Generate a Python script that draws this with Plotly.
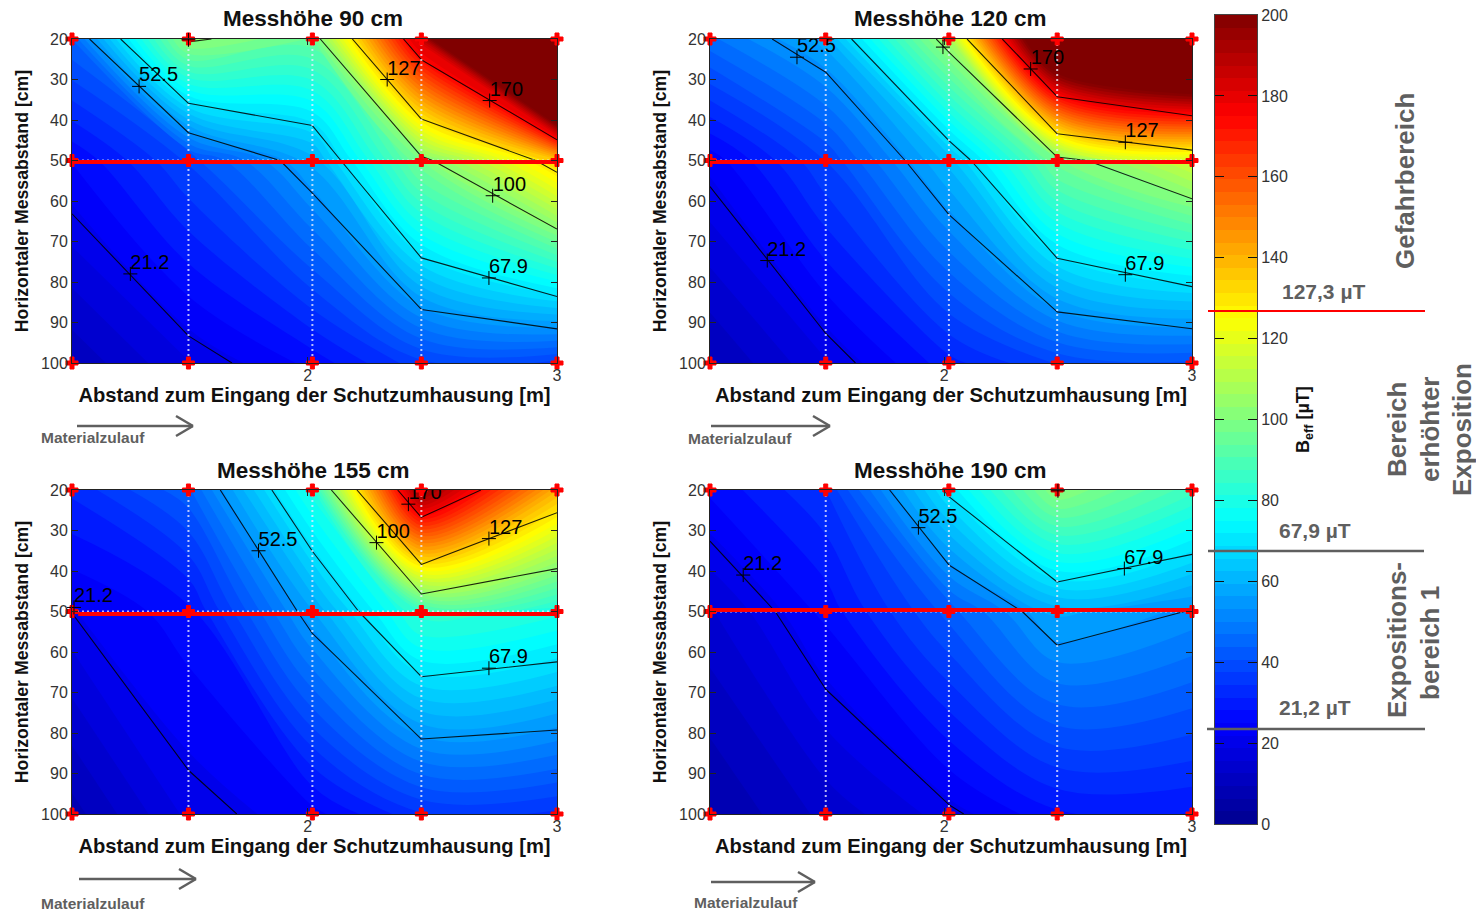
import plotly.graph_objects as go

W, H = 1476, 913
x_nodes = [1.055, 1.522, 2.019, 2.456, 3.0]
y_nodes = [20, 50, 100]
levels = [21.2, 52.5, 67.9, 100, 127, 170]
titles = ["Messhöhe 90 cm", "Messhöhe 120 cm", "Messhöhe 155 cm", "Messhöhe 190 cm"]

z_90 = [[43.8, 101.5, 93.4, 185, 352],
        [25.2, 38, 57.6, 97, 132.6],
        [10, 18.6, 26, 36.5, 36.3]]
z_120 = [[46, 58.1, 104.8, 237, 266],
         [23, 37.6, 60.7, 96, 114],
         [9, 18.4, 30, 37.8, 40]]
z_155 = [[32, 43, 80, 195, 138],
         [21.3, 27, 56, 84, 79.3],
         [8, 19.6, 23.7, 34, 33.5]]
z_190 = [[25.7, 34.3, 69.4, 100.3, 85.6],
         [15, 26, 42, 57.5, 52.2],
         [6, 13.5, 20.2, 27.5, 28]]
z_all = [z_90, z_120, z_155, z_190]

# contour label positions (+ marks) and their texts
lab_x = [[1.324, 2.319, 2.730, 2.742, 2.727, 1.289],
         [1.406, 2.349, 2.731, 2.731, 1.286],
         [1.803, 2.276, 2.727, 2.727, 1.063],
         [1.896, 1.189, 2.727]]
lab_y = [[31.7, 30, 35.2, 58.7, 79, 78],
         [24.5, 27.4, 45.5, 78.2, 74.7],
         [35, 33, 32, 64, 49],
         [29.3, 41, 39.4]]
lab_t = [["52.5", "127", "170", "100", "67.9", "21.2"],
         ["52.5", "170", "127", "67.9", "21.2"],
         ["52.5", "100", "127", "67.9", "21.2"],
         ["52.5", "21.2", "67.9"]]
# label cut off by the plot frame
cut_x = [[], [], [2.404], []]
cut_y = [[], [], [23.5], []]
cut_t = [[], [], ["170"], []]
# + marks whose label is not shown
mark_x = [[1.522], [1.995], [], [2.459]]
mark_y = [[20.2], [22], [], [20.2]]

red_y = [50.4, 50.4, 50.6, 49.6]
red_x0 = [1.055, 1.055, 1.08, 1.055]

cbar_ticks = [0, 20, 40, 60, 80, 100, 120, 140, 160, 180, 200]
cbar_levels = [i * 3.125 + 1.5625 for i in range(64)]

jet = [[0, "rgb(0,0,143)"], [0.125, "rgb(0,0,255)"], [0.375, "rgb(0,255,255)"],
       [0.625, "rgb(255,255,0)"], [0.875, "rgb(255,0,0)"], [1, "rgb(128,0,0)"]]

boxes = [(72, 557, 39, 363), (710, 1192, 39, 363), (72, 557, 490, 814), (710, 1192, 490, 814)]
FONT = "Liberation Sans"
GRAY = "#5f5f5f"
DOT = "rgba(235,235,255,0.78)"


def px(v):
    return v / W


def py(v):
    return 1 - v / H


fig = go.Figure()
layout = {}
for i, (x0, x1, y0, y1) in enumerate(boxes):
    n = i + 1
    xa, ya = f"x{n}", f"y{n}"
    layout[f"xaxis{n}"] = dict(
        domain=[px(x0), px(x1)], range=[x_nodes[0], x_nodes[-1]], anchor=ya,
        tickvals=[2, 3], ticks="inside", ticklen=6, tickcolor="#222", showgrid=False, zeroline=False,
        showline=True, linecolor="#222", linewidth=1, mirror="ticks", ticklabelstandoff=-2,
        tickfont=dict(family=FONT, size=16, color="#333"),
        title=dict(text="<b>Abstand zum Eingang der Schutzumhausung [m]</b>", standoff=4,
                   font=dict(family=FONT, size=20.2, color="#111")))
    layout[f"yaxis{n}"] = dict(
        domain=[py(y1), py(y0)], range=[100, 20], anchor=xa,
        tickvals=list(range(20, 101, 10)), ticks="inside", ticklen=6, tickcolor="#222",
        showgrid=False, zeroline=False, showline=True, linecolor="#222", linewidth=1, mirror="ticks",
        tickfont=dict(family=FONT, size=16, color="#333"),
        title=dict(text="<b>Horizontaler Messabstand [cm]</b>", standoff=7,
                   font=dict(family=FONT, size=17.7, color="#111")))
    fig.add_trace(go.Contour(
        x=x_nodes, y=y_nodes, z=z_all[i], xaxis=xa, yaxis=ya, colorscale=jet, zmin=0, zmax=200,
        autocontour=False, contours=dict(start=0, end=196.875, size=3.125, coloring="fill", showlines=False),
        line=dict(width=0), showscale=False, hoverinfo="skip"))
    for lv in levels:
        fig.add_trace(go.Contour(
            x=x_nodes, y=y_nodes, z=z_all[i], xaxis=xa, yaxis=ya, showscale=False, hoverinfo="skip",
            autocontour=False, contours=dict(start=lv, end=lv, size=1, coloring="none"),
            line=dict(color="rgba(0,0,0,0.85)", width=1.1, smoothing=0)))
    for xv in x_nodes[1:4]:
        fig.add_trace(go.Scatter(x=[xv, xv], y=[y_nodes[0], y_nodes[-1]], xaxis=xa, yaxis=ya, mode="lines",
                                 line=dict(color=DOT, width=2, dash="2px,3px"), showlegend=False, hoverinfo="skip"))
    fig.add_trace(go.Scatter(x=[x_nodes[0], x_nodes[-1]], y=[50, 50], xaxis=xa, yaxis=ya, mode="lines",
                             line=dict(color=DOT, width=2, dash="2px,3px"), showlegend=False, hoverinfo="skip"))
    fig.add_trace(go.Scatter(x=[red_x0[i], x_nodes[-1]], y=[red_y[i], red_y[i]], xaxis=xa, yaxis=ya, mode="lines",
                             line=dict(color="#ff0000", width=4), showlegend=False, hoverinfo="skip"))
    fig.add_trace(go.Scatter(x=[v for _ in y_nodes for v in x_nodes], y=[v for v in y_nodes for _ in x_nodes],
                             xaxis=xa, yaxis=ya, mode="markers", cliponaxis=False,
                             marker=dict(symbol="cross", size=10, color="#ff0000", line=dict(color="#ff0000", width=1)),
                             showlegend=False, hoverinfo="skip"))
    fig.add_trace(go.Scatter(x=lab_x[i] + cut_x[i] + mark_x[i], y=lab_y[i] + cut_y[i] + mark_y[i],
                             xaxis=xa, yaxis=ya, mode="markers", cliponaxis=False,
                             marker=dict(symbol="cross-thin", size=10, line=dict(color="#000", width=1)),
                             showlegend=False, hoverinfo="skip"))
    fig.add_trace(go.Scatter(x=lab_x[i], y=lab_y[i], text=lab_t[i], xaxis=xa, yaxis=ya, mode="text",
                             textposition="top right", cliponaxis=False,
                             textfont=dict(family=FONT, size=20, color="#000"), showlegend=False, hoverinfo="skip"))
    if cut_t[i]:
        fig.add_trace(go.Scatter(x=cut_x[i], y=cut_y[i], text=cut_t[i], xaxis=xa, yaxis=ya, mode="text",
                                 textposition="top right", cliponaxis=True,
                                 textfont=dict(family=FONT, size=20, color="#000"), showlegend=False, hoverinfo="skip"))

fig.add_trace(go.Heatmap(x=[0, 1], y=cbar_levels, z=[[v, v] for v in cbar_levels], xaxis="x5", yaxis="y5",
                         colorscale=jet, zmin=0, zmax=200, showscale=False, hoverinfo="skip"))
layout["xaxis5"] = dict(domain=[px(1215), px(1257)], range=[-0.5, 1.5], anchor="y5", showticklabels=False,
                        ticks="", showgrid=False, zeroline=False, showline=True, linecolor="#444", linewidth=1,
                        mirror=True)
layout["yaxis5"] = dict(domain=[py(824), py(15)], range=[0, 200], anchor="x5", side="right",
                        tickvals=cbar_ticks, ticks="inside", ticklen=9, tickcolor="#111",
                        showgrid=False, zeroline=False, showline=True, linecolor="#444", linewidth=1, mirror="ticks",
                        tickfont=dict(family=FONT, size=16, color="#333"))

ann = []


def text(x, y, t, size, color=GRAY, angle=0, bold=True):
    ann.append(dict(x=px(x), y=py(y), xref="paper", yref="paper", showarrow=False, textangle=angle,
                    text=f"<b>{t}</b>" if bold else t, font=dict(family=FONT, size=size, color=color),
                    xanchor="center", yanchor="middle"))


for t, cx, cy in zip(titles, [313, 950, 313, 950], [19, 19, 470, 470]):
    text(cx, cy, t, 22.5, "#111")
for cx, cy in [(93, 437), (740, 439), (93, 903), (746, 902)]:
    text(cx, cy, "Materialzulauf", 15.5)
text(1323, 291, "127,3 µT", 21)
text(1315, 530, "67,9 µT", 21)
text(1315, 707, "21,2 µT", 21)
text(1405, 181, "Gefahrbereich", 26, angle=-90)
text(1397, 430, "Bereich", 26, angle=-90)
text(1430, 430, "erhöhter", 26, angle=-90)
text(1462, 430, "Exposition", 26, angle=-90)
text(1397, 640, "Expositions-", 26, angle=-90)
text(1430, 643, "bereich 1", 26, angle=-90)
text(1304, 420, "B<sub>eff</sub> [µT]", 18, "#111", angle=-90)

shapes = []


def seg(x0, y0, x1, y1, color, width):
    shapes.append(dict(type="line", xref="paper", yref="paper", x0=px(x0), y0=py(y0), x1=px(x1), y1=py(y1),
                       line=dict(color=color, width=width), layer="above"))


seg(1208, 311, 1425, 311, "#ff0000", 2)
seg(1208, 551, 1424, 551, GRAY, 2.5)
seg(1207, 729, 1425, 729, GRAY, 2.5)
for x0, x1, yy in [(77, 193, 426), (711, 830, 426), (79, 196, 879), (711, 815, 882)]:
    seg(x0, yy, x1, yy, GRAY, 2.5)
    seg(x1 - 17, yy - 10, x1, yy, GRAY, 2.5)
    seg(x1 - 17, yy + 10, x1, yy, GRAY, 2.5)

fig.update_layout(width=W, height=H, margin=dict(l=0, r=0, t=0, b=0, autoexpand=False), paper_bgcolor="white",
                  plot_bgcolor="white", showlegend=False, annotations=ann, shapes=shapes, **layout)
fig.write_html("out.html", default_width=f"{W}px", default_height=f"{H}px",
               config=dict(displayModeBar=False, responsive=False),
               post_script="document.body.style.margin='0';document.body.style.overflow='hidden';")
